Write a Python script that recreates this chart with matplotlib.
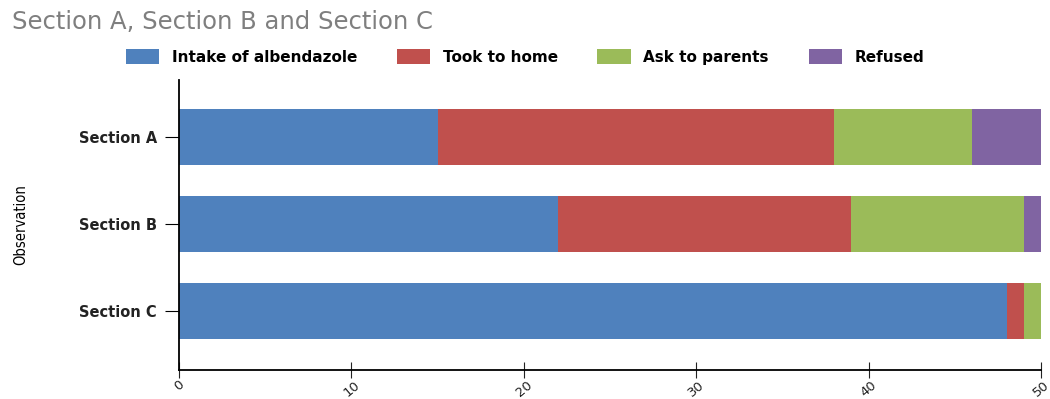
import numpy as np
import matplotlib.pyplot as plt

sections = ['Section A', 'Section B', 'Section C']
intake = [15, 22, 48]
took_home = [23, 17, 1]
ask_parents = [8, 10, 1]
refused = [4, 1, 0]

series = [
    ('Intake of albendazole', intake, '#4f81bd'),
    ('Took to home', took_home, '#c0504d'),
    ('Ask to parents', ask_parents, '#9bbb59'),
    ('Refused', refused, '#8064a2'),
]

fig = plt.figure(figsize=(10.5, 3.99), dpi=100)
ax = fig.add_axes([0.1705, 0.0727, 0.821, 0.727])

ypos = np.arange(len(sections))[::-1]
left = np.zeros(len(sections))
for name, vals, color in series:
    ax.barh(ypos, vals, left=left, height=0.64, color=color, label=name)
    left += np.array(vals)

ax.set_xlim(0, 50)
ax.set_ylim(-0.68, 2.66)
ax.set_yticks(ypos)
ax.set_yticklabels(sections, fontsize=10.5, fontweight='bold', color='#222222')
ax.set_xticks([0, 10, 20, 30, 40, 50])
ax.tick_params(axis='x', direction='inout', length=12, labelsize=9.5, pad=0,
               colors='#222222')
ax.tick_params(axis='y', direction='out', length=10, pad=6)
for lab in ax.get_xticklabels():
    lab.set_rotation(40)
    lab.set_ha('center')
    lab.set_va('top')
for s in ['top', 'right']:
    ax.spines[s].set_visible(False)
for s in ['left', 'bottom']:
    ax.spines[s].set_linewidth(1.3)

ax.set_ylabel('Observation', fontsize=10.5, fontstretch='condensed', labelpad=36)

fig.text(0.011, 0.945, 'Section A, Section B and Section C', fontsize=17.5,
         color='#7f7f7f', va='center')
fig.legend(loc='center', bbox_to_anchor=(0.5, 0.857), ncol=4, frameon=False,
           prop={'weight': 'bold', 'size': 11}, handlelength=2.2, handleheight=1.1,
           columnspacing=2.6)

fig.savefig('out.png', dpi=100)
